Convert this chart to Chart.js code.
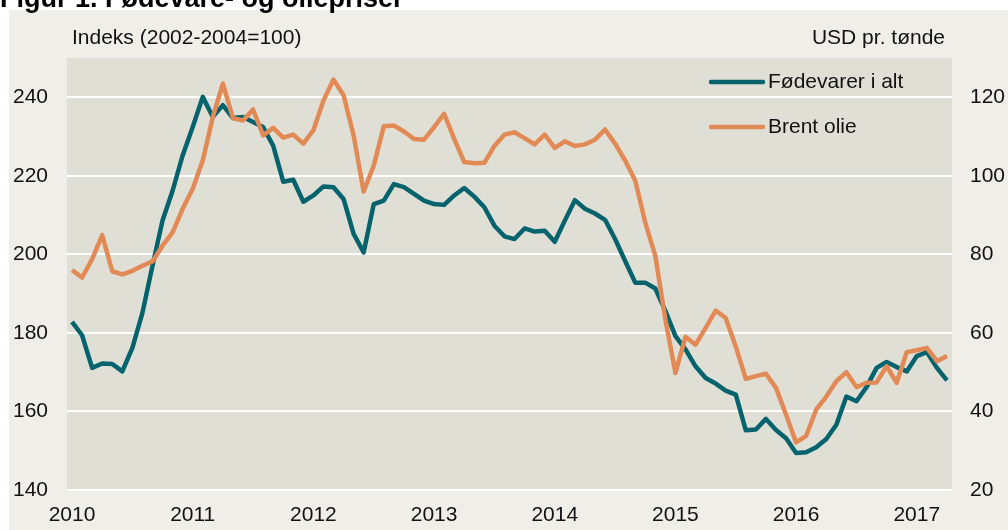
<!DOCTYPE html>
<html>
<head>
<meta charset="utf-8">
<script src="https://cdn.jsdelivr.net/npm/chart.js@4"></script>
<style>
  html, body { margin: 0; padding: 0; background: #fff; }
  #wrap { width: 1008px; height: 530px; position: relative; }
</style>
</head>
<body>
<div id="wrap"><canvas id="chart"></canvas></div>
<script>
// monthly data, Jan 2010 - Apr 2017
const years = [2010, 2011, 2012, 2013, 2014, 2015, 2016, 2017];
const months = [];
years.forEach(y => {
    for (let m = 1; m <= 12; m++) {
        if (y === 2017 && m > 4) break;
        months.push(`${y}-${String(m).padStart(2, '0')}`);
    }
});

// FAO food price index (2002-2004=100)
const foodIndex = [
    182.8, 179.4, 171.1, 172.2, 172.1, 170.2, 176.2, 185.1, 197.1, 208.6, 216.2, 225.2,
    232.4, 240.1, 235.0, 238.0, 234.7, 235.0, 233.7, 232.4, 227.7, 218.5, 219.0, 213.4,
    215.0, 217.3, 217.1, 214.1, 205.2, 200.5, 212.8, 213.7, 217.9, 217.1, 215.4, 213.7,
    212.8, 212.6, 215.0, 216.9, 214.7, 212.0, 207.3, 204.6, 203.9, 206.6, 205.8, 206.0,
    203.2, 208.6, 213.8, 211.6, 210.4, 208.8, 203.9, 198.3, 192.8, 192.8, 191.3, 185.6,
    179.2, 175.8, 171.5, 168.5, 167.1, 165.3, 164.3, 155.2, 155.4, 158.1, 155.3, 153.2,
    149.4, 149.6, 150.9, 153.0, 156.6, 163.8, 162.6, 166.2, 171.1, 172.6, 171.3, 170.2,
    174.1, 175.1, 171.1, 167.9
];

// Brent, USD per barrel
const brent = [
    76.0, 74.1, 78.8, 84.9, 75.7, 74.9, 75.8, 77.1, 78.2, 82.2, 85.6, 91.6,
    96.7, 103.9, 115.0, 123.5, 114.7, 114.1, 116.9, 110.3, 112.2, 109.7, 110.5, 108.2,
    111.6, 119.2, 124.5, 120.5, 110.3, 96.0, 102.6, 112.6, 112.8, 111.3, 109.4, 109.2,
    112.4, 115.8, 109.4, 103.5, 103.2, 103.3, 107.6, 110.5, 111.1, 109.6, 108.0, 110.5,
    107.1, 108.8, 107.6, 108.0, 109.2, 111.8, 108.2, 103.9, 98.8, 88.1, 79.6, 63.4,
    49.8, 59.0, 57.0, 61.3, 65.7, 63.8, 56.5, 48.3, 49.0, 49.6, 46.0, 39.2,
    32.1, 33.8, 40.5, 43.8, 47.7, 50.0, 46.2, 47.3, 47.4, 51.5, 47.3, 55.1,
    55.6, 56.2, 52.8, 54.1
];

const seriesNames = ['Fødevarer i alt', 'Brent olie'];
const seriesColors = ['#04636d', '#e28a55'];

const FONT = '"Liberation Sans", Arial, sans-serif';

const backdrop = {
    id: 'backdrop',
    beforeDraw(chart) {
        const {ctx, chartArea} = chart;
        ctx.save();
        ctx.fillStyle = '#ffffff';
        ctx.fillRect(0, 0, chart.width, chart.height);
        ctx.fillStyle = '#efeee8';
        ctx.fillRect(9, 10, chart.width - 9, chart.height - 10);
        ctx.fillStyle = '#e0dfd5';
        ctx.fillRect(chartArea.left, chartArea.top, chartArea.right - chartArea.left, chartArea.bottom - chartArea.top);
        ctx.restore();
    },
    afterDraw(chart) {
        const {ctx, chartArea} = chart;
        ctx.save();
        // title, cut at the top edge
        ctx.fillStyle = '#000';
        ctx.font = `bold 27px ${FONT}`;
        ctx.textBaseline = 'alphabetic';
        ctx.textAlign = 'left';
        ctx.fillText('Figur 1. Fødevare- og oliepriser', 0, 7);

        // axis units
        ctx.font = `21px ${FONT}`;
        ctx.textBaseline = 'middle';
        ctx.fillStyle = '#111';
        ctx.fillText('Indeks (2002-2004=100)', chartArea.left + 5, 38);
        ctx.textAlign = 'right';
        ctx.fillText('USD pr. tønde', chartArea.right - 7, 38);

        // legend inside plot
        ctx.textAlign = 'left';
        seriesNames.forEach((name, i) => {
            const y = 82 + i * 45;
            ctx.strokeStyle = seriesColors[i];
            ctx.lineWidth = 4.5;
            ctx.lineCap = 'round';
            ctx.beginPath();
            ctx.moveTo(711, y);
            ctx.lineTo(763, y);
            ctx.stroke();
            ctx.fillStyle = '#111';
            ctx.fillText(name, 768, y);
        });
        ctx.restore();
    }
};

new Chart(document.getElementById('chart'), {
    type: 'line',
    data: {
        labels: months,
        datasets: [
            {
                label: seriesNames[0],
                data: foodIndex,
                yAxisID: 'y',
                borderColor: seriesColors[0],
                borderWidth: 4.5,
                pointRadius: 0,
                tension: 0,
                borderJoinStyle: 'round',
                order: 2
            },
            {
                label: seriesNames[1],
                data: brent,
                yAxisID: 'y2',
                borderColor: seriesColors[1],
                borderWidth: 4.5,
                pointRadius: 0,
                tension: 0,
                borderJoinStyle: 'round',
                order: 1
            }
        ]
    },
    options: {
        responsive: true,
        maintainAspectRatio: false,
        animation: false,
        layout: {padding: {top: 58}},
        plugins: {
            legend: {display: false},
            tooltip: {enabled: false}
        },
        scales: {
            x: {
                offset: true,
                grid: {display: false, drawTicks: false},
                border: {display: false},
                ticks: {
                    autoSkip: false,
                    maxRotation: 0,
                    padding: 13,
                    color: '#111',
                    font: {family: FONT, size: 21},
                    callback: function (value) {
                        const label = this.getLabelForValue(value);
                        return label.endsWith('-01') ? label.slice(0, 4) : '';
                    }
                },
                afterFit: scale => { scale.height = 40; }
            },
            y: {
                position: 'left',
                min: 140,
                max: 250,
                grid: {color: '#ffffff', lineWidth: 2, drawTicks: false},
                border: {display: false},
                ticks: {
                    stepSize: 20,
                    includeBounds: false,
                    padding: 19,
                    color: '#111',
                    font: {family: FONT, size: 21}
                },
                afterFit: scale => { scale.width = 67; }
            },
            y2: {
                position: 'right',
                min: 20,
                max: 130,
                grid: {display: false, drawTicks: false},
                border: {display: false},
                ticks: {
                    stepSize: 20,
                    includeBounds: false,
                    padding: 18,
                    color: '#111',
                    font: {family: FONT, size: 21}
                },
                afterFit: scale => { scale.width = 56; }
            }
        }
    },
    plugins: [backdrop]
});
</script>
</body>
</html>
